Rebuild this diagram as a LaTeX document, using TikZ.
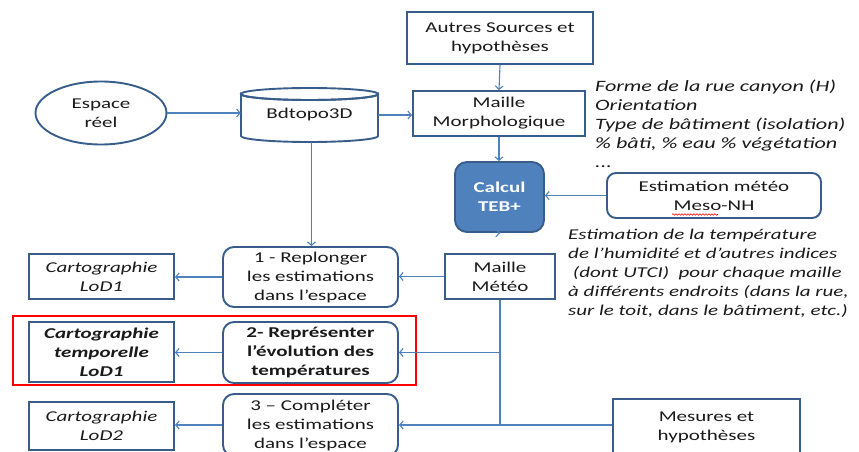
\documentclass[tikz,border=0pt]{standalone}
\usepackage{fontspec}
\setmainfont{Carlito}[FakeStretch=1.4]
\usetikzlibrary{arrows.meta,shapes.geometric,decorations.pathmorphing}
\definecolor{bdr}{HTML}{385D8A}
\definecolor{lnk}{HTML}{4F81BD}
\definecolor{txt}{HTML}{1A1A1A}
\tikzset{
  box/.style={draw=bdr, line width=1.9pt, fill=white, align=center, inner sep=0pt, text=txt,
    font=\fontsize{15}{19}\selectfont},
  rbox/.style={box, rounded corners=11pt},
  link/.style={draw=lnk, line width=1.1pt, -{Straight Barb[length=3.5pt,width=8pt]}},
  plain/.style={draw=lnk, line width=1.1pt},
  note/.style={align=left, inner sep=0pt, text=txt, anchor=north west,
    font=\itshape\fontsize{15}{19}\selectfont},
}
\begin{document}
\begin{tikzpicture}[x=1pt,y=-1pt]
\useasboundingbox (0,0) rectangle (859,452);
\clip (0,0) rectangle (859,452);

% top chain
\node[box, ellipse, minimum width=131pt, minimum height=63pt] (espace) at (101,113) {Espace\\réel};
\draw[draw=bdr, line width=1.9pt, fill=white]
  (241,94) -- (241,136) arc[start angle=180, end angle=0, x radius=68.5, y radius=6]
  -- (378,94) arc[start angle=0, end angle=180, x radius=68.5, y radius=6] -- cycle;
\draw[draw=bdr, line width=1.9pt] (309.5,94) ellipse[x radius=68.5, y radius=6];
\node[align=center, inner sep=0pt, text=txt, font=\fontsize{15}{19}\selectfont,
  minimum width=137pt, minimum height=54pt] (bdtopo) at (309.5,115) {\raisebox{-3pt}{Bdtopo3D}};

\node[box, minimum width=186pt, minimum height=52pt] (autres) at (500,38) {Autres Sources et\\hypothèses};
\node[box, minimum width=172pt, minimum height=45pt] (morpho) at (499,113.5) {Maille\\Morphologique};
\node[box, rounded corners=12pt, fill=lnk, draw=bdr, text=white, font=\bfseries\fontsize{15}{19}\selectfont,
  minimum width=89pt, minimum height=70pt] (calcul) at (499.5,197) {Calcul\\TEB+};
\node[box, rounded corners=9pt, minimum width=214pt, minimum height=45pt] (estim) at (714,195.5) {Estimation météo\\Meso-NH};
\draw[red, line width=0.6pt, decorate, decoration={snake, amplitude=0.8pt, segment length=3pt}] (672,214.5) -- (718,214.5);
\node[box, minimum width=110pt, minimum height=45pt] (mmeteo) at (500,276.5) {Maille\\Météo};
\node[box, minimum width=187pt, minimum height=56pt] (mesures) at (706.5,427) {Mesures et\\hypothèses};

% notes
\node[note, font=\itshape\fontsize{15.8}{19}\selectfont] (note1) at (595,80) {Forme de la rue canyon (H)\\Orientation\\Type de bâtiment (isolation)\\\% bâti, \% eau \% végétation\\...};
\node[note] (note2) at (568,229) {Estimation de la température\\de l’humidité et d’autres indices\\\ (dont UTCI)\ \ pour chaque maille\\à différents endroits (dans la rue,\\sur le toit, dans le bâtiment, etc.)};

% left column
\node[rbox, minimum width=175pt, minimum height=60pt] (step1) at (310.5,277) {1 - Replonger\\les estimations\\dans l’espace};
\node[rbox, minimum width=175pt, minimum height=61pt, font=\bfseries\fontsize{15}{19}\selectfont] (step2) at (310.5,352.5) {2- Représenter\\l’évolution des\\températures};
\node[rbox, minimum width=175pt, minimum height=62pt] (step3) at (310.5,425) {3 – Compléter\\les estimations\\dans l’espace};

\node[box, minimum width=145pt, minimum height=45pt, font=\itshape\fontsize{15}{19}\selectfont] (carto1) at (101.5,276.5) {Cartographie\\LoD1};
\node[box, minimum width=145pt, minimum height=60pt, font=\bfseries\itshape\fontsize{15}{19}\selectfont] (carto2) at (101.5,352) {Cartographie\\temporelle\\LoD1};
\node[box, minimum width=145pt, minimum height=48pt, font=\itshape\fontsize{15}{19}\selectfont] (carto3) at (101.5,426) {Cartographie\\LoD2};

\node[draw=red, line width=1.6pt, minimum width=403pt, minimum height=69pt, inner sep=0pt] (hl) at (214.5,350.5) {};

% connectors
\draw[link] (espace.east) -- (espace.east -| bdtopo.west);
\draw[link] (bdtopo.east) -- (bdtopo.east -| morpho.west);
\draw[link] (autres.south) -- (morpho.north);
\draw[link] (morpho.south) -- (morpho.south |- calcul.north);
\draw[link] (estim.west) -- (estim.west -| calcul.east);
\draw[link] (calcul.south) -- (calcul.south -| mmeteo.north);
\draw[link] ([xshift=2pt]bdtopo.south) -- ([xshift=2pt]bdtopo.south |- step1.north);
\draw[link] (mmeteo.west) -- (mmeteo.west -| step1.east);
\draw[link] (step1.west) -- (step1.west -| carto1.east);
\coordinate (j2) at (mmeteo.south |- step2.east);
\coordinate (j3) at (mmeteo.south |- step3.east);
\draw[plain] (mmeteo.south) -- (j3);
\draw[link] (j2) -- (step2.east);
\draw[link] (mesures.west |- j3) -- (step3.east);
\draw[link] (step2.west) -- (step2.west -| carto2.east);
\draw[link] (step3.west) -- (step3.west -| carto3.east);
\end{tikzpicture}
\end{document}
